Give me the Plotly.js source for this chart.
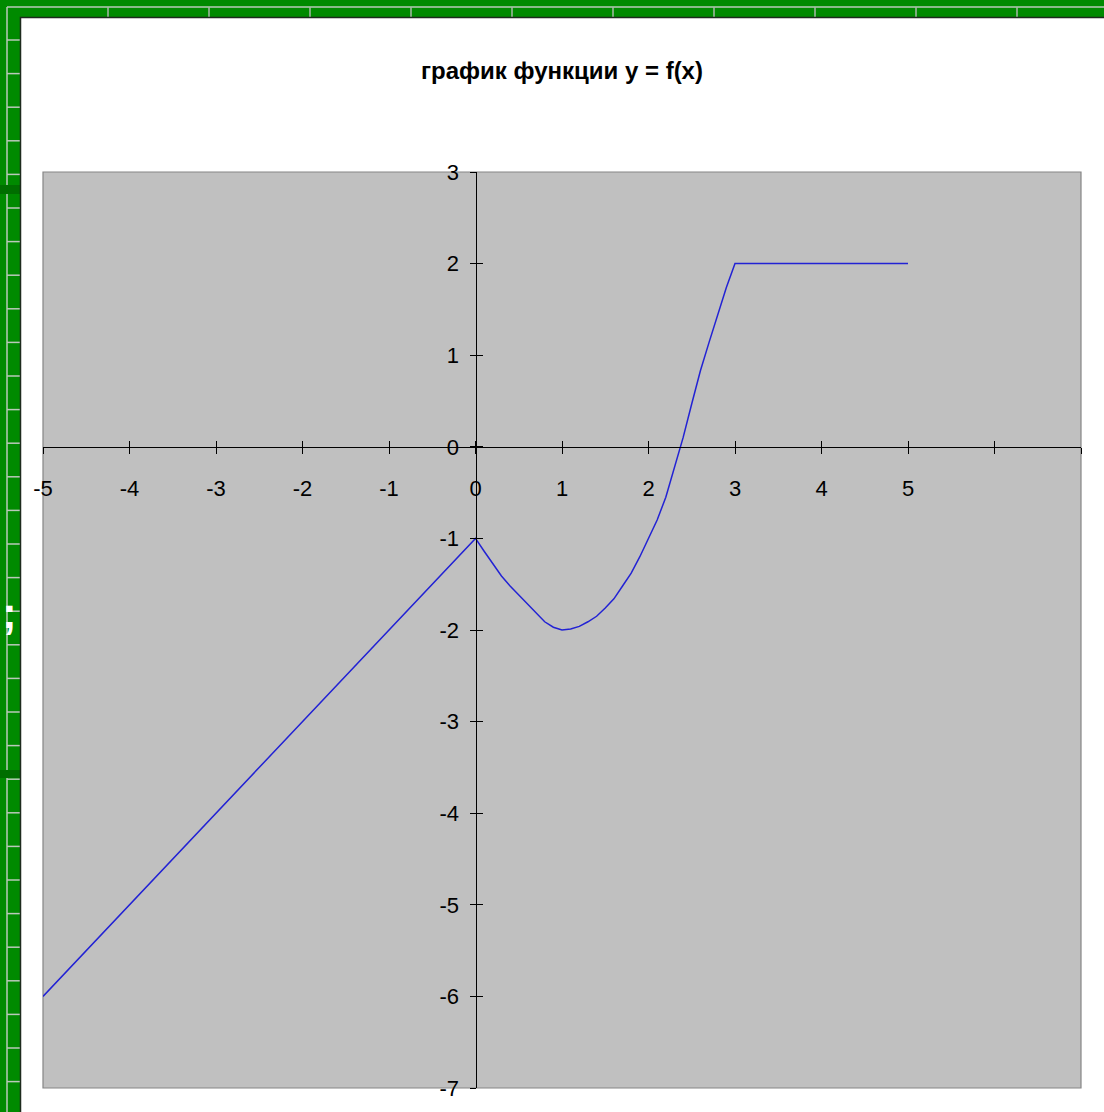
<!DOCTYPE html>
<html>
<head>
<meta charset="utf-8">
<script src="https://cdn.plot.ly/plotly-3.0.1.min.js"></script>
<style>
  html, body { margin: 0; padding: 0; background: #008a00; }
  #chart { width: 1104px; height: 1112px; }
</style>
</head>
<body>
<div id="chart"></div>
<script>
// Points of y = f(x)
const xValues = [-5, -4, -3, -2, -1, 0,
  0.1, 0.2, 0.3, 0.4, 0.5, 0.6, 0.7, 0.8, 0.9, 1.0,
  1.1, 1.2, 1.3, 1.4, 1.5, 1.6, 1.7, 1.8, 1.9, 2.0,
  2.1, 2.2, 2.3, 2.4, 2.5, 2.6, 2.7, 2.8, 2.9, 3.0,
  4, 5];
const yValues = [-6, -5, -4, -3, -2, -1,
  -1.14, -1.28, -1.41, -1.52, -1.62, -1.72, -1.82, -1.91, -1.97, -2.0,
  -1.99, -1.96, -1.91, -1.85, -1.76, -1.66, -1.52, -1.38, -1.2, -1.0,
  -0.8, -0.55, -0.23, 0.1, 0.47, 0.83, 1.14, 1.45, 1.74, 2.0,
  2, 2];

// Axis ticks
const xTickVals = [-5, -4, -3, -2, -1, 0, 1, 2, 3, 4, 5, 6, 7];
const xTickText = ['-5', '-4', '-3', '-2', '-1', '0', '1', '2', '3', '4', '5', '', ''];
const yTickVals = [-7, -6, -5, -4, -3, -2, -1, 0, 1, 2, 3];
const yTickText = ['-7', '-6', '-5', '-4', '-3', '-2', '-1', '0', '1', '2', '3'];

const chartTitle = 'график функции y = f(x)';

// Page geometry (pixels)
const W = 1104, H = 1112;
const M = { l: 43, r: 23, t: 172, b: 24 };
const PW = W - M.l - M.r, PH = H - M.t - M.b;
const px = v => (v - M.l) / PW;          // pixel x -> paper x
const py = v => (H - M.b - v) / PH;      // pixel y -> paper y

const FONT = 'Liberation Sans, Arial, sans-serif';

// Backdrop: green frame with light guide lines, white sheet, grey plotting area
const shapes = [];
const paperLine = (x0, y0, x1, y1, color, width) => shapes.push({
  type: 'line', xref: 'paper', yref: 'paper', layer: 'below',
  x0: px(x0), y0: py(y0), x1: px(x1), y1: py(y1),
  line: { color: color, width: width }
});
const guide = '#b9c9b9';
paperLine(7, 7, W, 7, guide, 1.5);
paperLine(7, 7, 7, H, guide, 1.5);
for (let x = 108; x < W; x += 101) paperLine(x, 7, x, 18, '#a8b8a8', 1.5);
for (let y = 40; y < H; y += 33.6) paperLine(7, y, 20, y, guide, 1.5);
// darker bands on the left strip
shapes.push({ type: 'rect', xref: 'paper', yref: 'paper', layer: 'below',
  x0: px(0), x1: px(20), y0: py(185), y1: py(194), fillcolor: '#006e00', line: { width: 0 } });
shapes.push({ type: 'rect', xref: 'paper', yref: 'paper', layer: 'below',
  x0: px(0), x1: px(20), y0: py(770), y1: py(778), fillcolor: '#006e00', line: { width: 0 } });
// white sheet
shapes.push({ type: 'rect', xref: 'paper', yref: 'paper', layer: 'below',
  x0: px(20.5), x1: px(W + 5), y0: py(H + 5), y1: py(17.5),
  fillcolor: '#ffffff', line: { color: '#1d2b1d', width: 1.5 } });
// plotting area
shapes.push({ type: 'rect', xref: 'paper', yref: 'paper', layer: 'below',
  x0: 0, x1: 1, y0: 0, y1: 1,
  fillcolor: '#c0c0c0', line: { color: '#858585', width: 1.2 } });

const trace = {
  x: xValues, y: yValues, type: 'scatter', mode: 'lines',
  line: { color: '#2222d4', width: 1.5 },
  hoverinfo: 'skip', showlegend: false
};

const tickFont = { family: FONT, size: 22, color: '#000000' };

const layout = {
  width: W, height: H,
  margin: M,
  paper_bgcolor: '#008a00',
  plot_bgcolor: 'rgba(0,0,0,0)',
  showlegend: false,
  title: {
    text: chartTitle,
    x: 0.5, xref: 'paper', xanchor: 'center',
    y: 1 - 71 / H, yref: 'container', yanchor: 'middle',
    font: { family: FONT, size: 24, color: '#000000', weight: 'bold' }
  },
  xaxis: {
    range: [-5, 7], domain: [0, 1],
    anchor: 'free', position: 0.7,
    showline: true, linecolor: '#000000', linewidth: 1,
    showgrid: false, zeroline: false,
    tickmode: 'array', tickvals: xTickVals, ticktext: xTickText,
    ticks: 'outside', ticklen: 6, tickwidth: 1, tickcolor: '#000000',
    ticklabelstandoff: 16,
    tickfont: tickFont, fixedrange: true
  },
  xaxis2: {
    range: [-5, 7], overlaying: 'x', anchor: 'free', position: 0.7,
    showline: false, showgrid: false, zeroline: false,
    tickmode: 'array', tickvals: xTickVals,
    ticks: 'inside', ticklen: 6, tickwidth: 1, tickcolor: '#000000',
    showticklabels: false, fixedrange: true
  },
  yaxis: {
    range: [-7, 3], domain: [0, 1],
    anchor: 'free', position: 5 / 12,
    showline: true, linecolor: '#000000', linewidth: 1,
    showgrid: false, zeroline: false,
    tickmode: 'array', tickvals: yTickVals, ticktext: yTickText,
    ticks: 'outside', ticklen: 6, tickwidth: 1, tickcolor: '#000000',
    ticklabelstandoff: 6,
    tickfont: tickFont, fixedrange: true
  },
  yaxis2: {
    range: [-7, 3], overlaying: 'y', anchor: 'free', position: 5 / 12,
    showline: false, showgrid: false, zeroline: false,
    tickmode: 'array', tickvals: yTickVals,
    ticks: 'inside', ticklen: 6, tickwidth: 1, tickcolor: '#000000',
    showticklabels: false, fixedrange: true
  },
  shapes: shapes,
  annotations: [{
    text: ';', xref: 'paper', yref: 'paper', x: px(0), y: py(612),
    xanchor: 'left', yanchor: 'middle', showarrow: false,
    font: { family: FONT, size: 44, color: '#ffffff', weight: 'bold' }
  }]
};

// invisible helper trace so the overlay axes are rendered
const helper = {
  x: [null], y: [null], xaxis: 'x2', yaxis: 'y2', type: 'scatter', mode: 'lines',
  hoverinfo: 'skip', showlegend: false
};

Plotly.newPlot('chart', [trace, helper], layout, { displayModeBar: false, staticPlot: true });
</script>
</body>
</html>
